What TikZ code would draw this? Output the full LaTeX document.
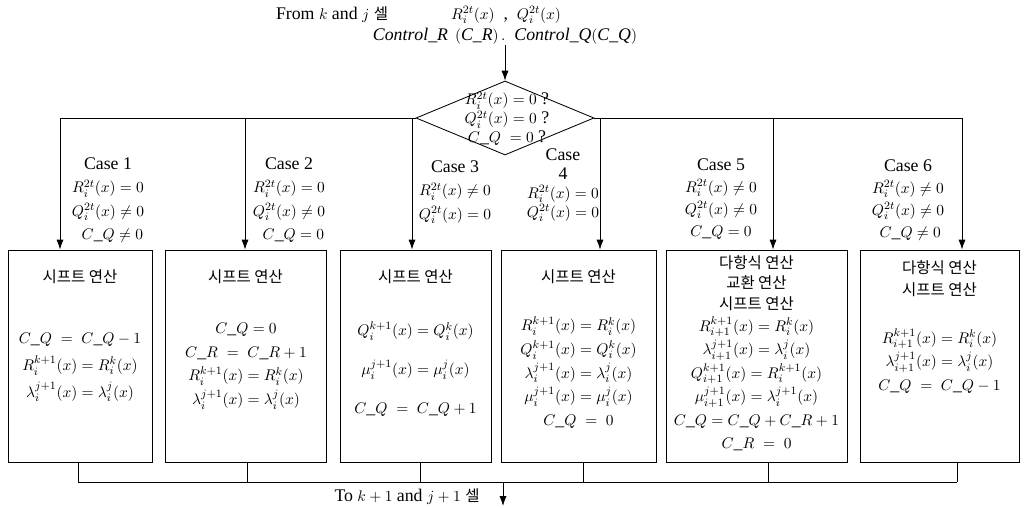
\documentclass[tikz,border=0pt]{standalone}
\usepackage{amsmath}
\usepackage{amssymb}
\usepackage{fontspec}
\setmainfont[Scale=1.15]{Liberation Serif}
\newfontfamily\kr{Noto Sans CJK KR}
\usetikzlibrary{
    arrows.meta,
    shapes.geometric
}

\newcommand{\cQ}{C\_Q}
\newcommand{\cR}{C\_R}

\begin{document}
\begin{tikzpicture}[x=0.025cm, y=-0.025cm, line width=0.6pt,
    box/.style={draw, rectangle, inner sep=0pt, minimum height=212*0.025cm},
    arr/.style={-{Latex[length=7pt,width=5pt]}},
    lines/.style={align=center, inner sep=0pt,
        font={\fontsize{11}{#1}\selectfont\lineskiplimit=-30pt}},
    lines/.default=16pt
]

\useasboundingbox (0,0) rectangle (1027,507);

% Input
\node[lines] (src) at (332,15) {From $k$ and $j$ {\kr 셀}};
\node[lines] (rq) at (506,15) {$R_i^{2t}(x)$\ \ ,\ \ $Q_i^{2t}(x)$};
\node[lines] (ctl) at (505,36)
    {$\mathit{Control\_R}\ \,(\mathit{C\_R})\,.\ \ \mathit{Control\_Q}(\mathit{C\_Q})$};

% Decision
\node[diamond, draw, inner sep=0pt, minimum width=178*0.025cm,
      minimum height=74*0.025cm] (dec) at (505,118) {};
\node[lines=13.5pt] (dq) at (507,119)
    {$R_i^{2t}(x) = 0$ ?\\ $Q_i^{2t}(x) = 0$ ?\\ $\cQ\ = 0$ ?};
\draw[arr] (ctl.south) -- (dec.north);

% Boxes
\foreach \n/\cx/\w in {1/80/144, 2/245.5/161, 3/415.5/151,
                       4/578.5/155, 5/756.5/181, 6/939.5/159}
    \node[box, minimum width=\w*0.025cm] (box\n) at (\cx,356) {};

% Branches
\foreach \n/\xx in {1/60, 2/245, 3/412, 4/600, 5/773, 6/962}
    \coordinate (b\n) at (\xx,118);
\draw (dec.west) -- (b1);
\draw (dec.east) -- (b6);
\foreach \n in {1,...,6}
    \draw[arr] (b\n) -- (b\n |- box\n.north);

% Cases
\node[lines=16.6pt] (c1) at (108,200)
    {Case 1\\ $R_i^{2t}(x) = 0$\\ $Q_i^{2t}(x) \neq 0$\\ \ \ $\cQ \neq 0$};
\node[lines=16.6pt] (c2) at (289,200)
    {Case 2\\ $R_i^{2t}(x) = 0$\\ $Q_i^{2t}(x) \neq 0$\\ \ \ $\cQ = 0$};
\node[lines=16.6pt] (c3) at (455,192)
    {Case 3\\ $R_i^{2t}(x) \neq 0$\\ $Q_i^{2t}(x) = 0$};
\node[lines=13.5pt] (c4) at (563,185)
    {Case\\ 4\\ $R_i^{2t}(x) = 0$\\ $Q_i^{2t}(x) = 0$};
\node[lines=15.8pt] (c5) at (721,199)
    {Case 5\\ $R_i^{2t}(x) \neq 0$\\ $Q_i^{2t}(x) \neq 0$\\ $\cQ = 0$};
\node[lines=15.8pt] (c6) at (908,200)
    {Case 6\\ $R_i^{2t}(x) \neq 0$\\ $Q_i^{2t}(x) \neq 0$\\ \ $\cQ \neq 0$};

% Box 1
\node[lines] (t1) at (80,277) {\kr 시프트 연산};
\node[lines=19pt] (e1) at (80,367.5)
    {$\cQ\ =\ \cQ - 1$\\ $R_i^{k+1}(x) = R_i^k(x)$\\ $\lambda_i^{j+1}(x) = \lambda_i^j(x)$};

% Box 2
\node[lines] (t2) at (245.5,277) {\kr 시프트 연산};
\node[lines=17pt] (e2) at (246,366)
    {$\cQ = 0$\\ $\cR\ =\ \cR + 1$\\ $R_i^{k+1}(x) = R_i^k(x)$\\
     $\lambda_i^{j+1}(x) = \lambda_i^j(x)$};

% Box 3
\node[lines] (t3) at (415.5,277) {\kr 시프트 연산};
\node[lines=27.6pt] (e3) at (415.5,369)
    {$Q_i^{k+1}(x) = Q_i^k(x)$\\ $\mu_i^{j+1}(x) = \mu_i^j(x)$\\ $\cQ\ =\ \cQ + 1$};

% Box 4
\node[lines] (t4) at (578.5,277) {\kr 시프트 연산};
\node[lines=16.8pt] (e4) at (578.5,372.5)
    {$R_i^{k+1}(x) = R_i^k(x)$\\ $Q_i^{k+1}(x) = Q_i^k(x)$\\
     $\lambda_i^{j+1}(x) = \lambda_i^j(x)$\\ $\mu_i^{j+1}(x) = \mu_i^j(x)$\\
     $\cQ\ =\ 0$};

% Box 5
\node[lines=14.5pt] (t5) at (756.5,283)
    {{\kr 다항식 연산}\\ {\kr 교환 연산}\\ {\kr 시프트 연산}};
\node[lines=16.7pt] (e5) at (756.5,384)
    {$R_{i+1}^{k+1}(x) = R_i^k(x)$\\ $\lambda_{i+1}^{j+1}(x) = \lambda_i^j(x)$\\
     $Q_{i+1}^{k+1}(x) = R_i^{k+1}(x)$\\ $\mu_{i+1}^{j+1}(x) = \lambda_i^{j+1}(x)$\\
     $\cQ = \cQ + \cR + 1$\\ $\cR\ =\ 0$};

% Box 6
\node[lines=15.6pt] (t6) at (939.5,279) {{\kr 다항식 연산}\\ {\kr 시프트 연산}};
\node[lines=16.7pt] (e6) at (939.5,361)
    {$R_{i+1}^{k+1}(x) = R_i^k(x)$\\ $\lambda_{i+1}^{j+1}(x) = \lambda_i^j(x)$\\
     $\cQ\ =\ \cQ - 1$};

% Merge
\foreach \n/\xx in {1/78, 2/247, 3/420, 4/583, 5/768, 6/957}
    \coordinate (m\n) at (\xx,482);
\foreach \n in {1,...,6}
    \draw (m\n |- box\n.south) -- (m\n);
\draw (m1) -- (m6);

% Output
\coordinate (out) at (503,506);
\draw[arr] (out |- m1) -- (out);
\node[lines] (dst) at (407,497) {To $k+1$ and $j+1$ {\kr 셀}};

\end{tikzpicture}
\end{document}
